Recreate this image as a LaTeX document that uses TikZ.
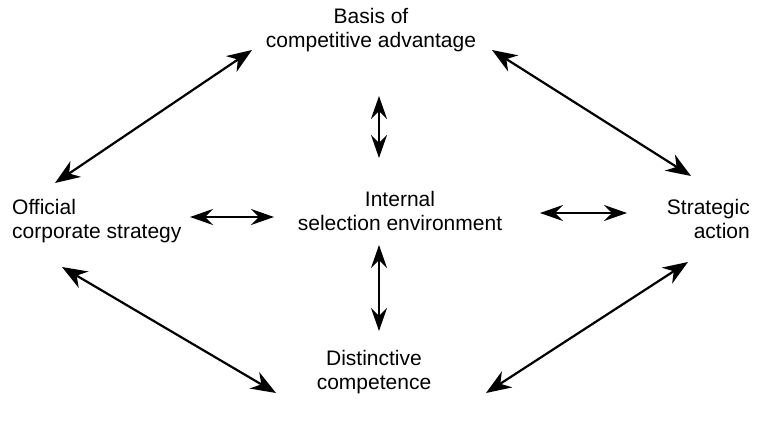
\documentclass[tikz,border=0pt]{standalone}
\usepackage{fontspec}
\setmainfont{Liberation Sans}
\usetikzlibrary{arrows.meta}
\begin{document}
\begin{tikzpicture}[x=1pt,y=-1pt,
  lbl/.style={font=\fontsize{21}{24}\selectfont, inner sep=0pt},
  link/.style={{Stealth[length=25pt,width=19pt,inset=8pt]}-{Stealth[length=25pt,width=19pt,inset=8pt]}, line width=2.2pt},
  vlink/.style={{Stealth[length=23pt,width=16pt,inset=8pt]}-{Stealth[length=23pt,width=16pt,inset=8pt]}, line width=1.6pt}]
\useasboundingbox (0,0) rectangle (762,422);
\node[lbl, align=center] (top) at (371,30) {Basis of\\competitive advantage};
\node[lbl, align=left, anchor=west] (left) at (12,221) {Official\\corporate strategy};
\node[lbl, align=center] (mid) at (400,211) {Internal\\selection environment};
\node[lbl, align=right, anchor=east] (right) at (750,219) {Strategic\\action};
\node[lbl, align=center] (bot) at (374,372) {Distinctive\\competence};
% connector ends
\coordinate (tl1) at (55,183); \coordinate (tl2) at (252,50);
\coordinate (tr1) at (492,50); \coordinate (tr2) at (691,176);
\coordinate (vt1) at (379,96); \coordinate (vt2) at (379,158);
\coordinate (hl1) at (190,217); \coordinate (hl2) at (274,217);
\coordinate (hr1) at (540,213); \coordinate (hr2) at (627,213);
\coordinate (vb1) at (379,245); \coordinate (vb2) at (379,331);
\coordinate (bl1) at (62,267); \coordinate (bl2) at (276,393);
\coordinate (br1) at (486,393); \coordinate (br2) at (688,262);
\draw[link] (tl1) -- (tl2);
\draw[link] (tr1) -- (tr2);
\draw[vlink] (vt1) -- (vt2);
\draw[vlink] (hl1) -- (hl2);
\draw[vlink] (hr1) -- (hr2);
\draw[vlink] (vb1) -- (vb2);
\draw[link] (bl1) -- (bl2);
\draw[link] (br1) -- (br2);
\end{tikzpicture}
\end{document}
